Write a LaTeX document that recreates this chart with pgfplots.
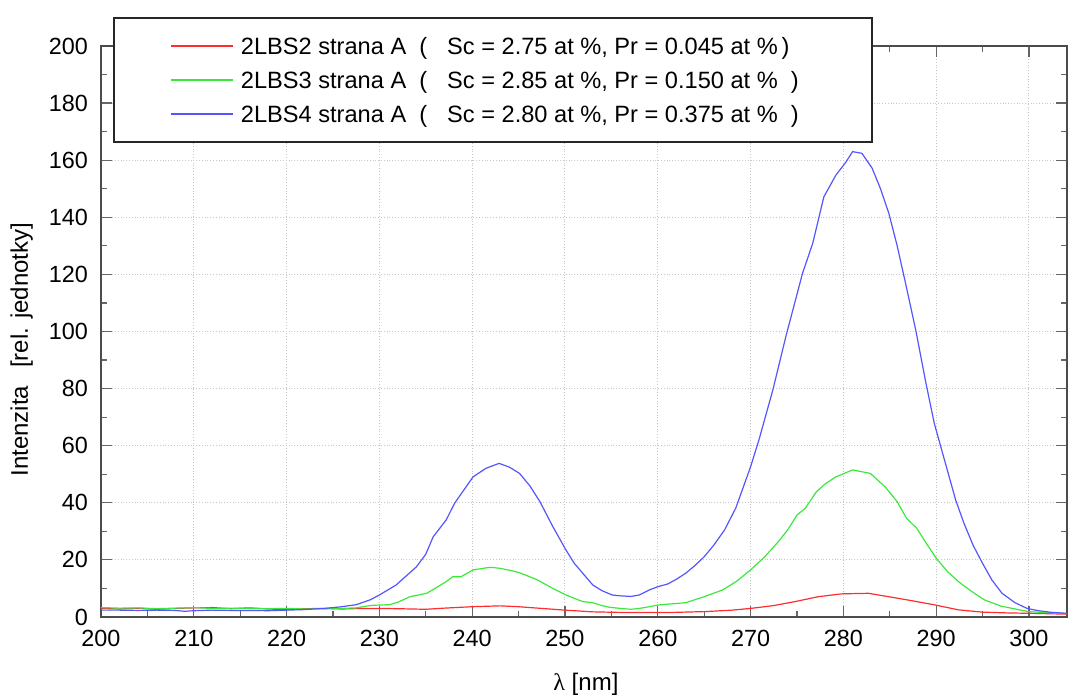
\documentclass[border=0pt]{standalone}
\usepackage{fontspec}
\setmainfont{Liberation Sans}
\newfontfamily\greekserif{Liberation Serif}
\usepackage{pgfplots}
\pgfplotsset{compat=1.18}
\definecolor{cred}{RGB}{255,45,45}
\definecolor{cgreen}{RGB}{60,232,60}
\definecolor{cblue}{RGB}{85,85,255}
\begin{document}
\begin{tikzpicture}
\begin{axis}[
  scale only axis, width=483pt, height=285.5pt,
  xmin=200, xmax=304.1, ymin=0, ymax=200,
  xtick={200,210,...,300}, ytick={0,20,...,200},
  minor x tick num=1, minor y tick num=1,
  tick align=inside,
  major tick length=5.5pt, minor tick length=3pt,
  tick style={color=black!60, line width=0.6pt},
  axis line style={color=black!70, line width=0.6pt},
  grid=major, major grid style={densely dotted, color=black!22, line width=0.5pt},
  /pgf/number format/assume math mode=true,
  tick label style={font=\fontsize{11.7}{14}\selectfont},
  xticklabel style={yshift=-3pt},
  yticklabel style={xshift=-3pt},
  xlabel={{\greekserif λ} [nm]},
  xlabel style={at={(axis description cs:0.502,-0.117)}, anchor=center, font=\fontsize{12}{14}\selectfont},
  ylabel={Intenzita\hspace{9pt}[rel. jednotky]},
  ylabel style={at={(axis description cs:-0.082,0.468)}, anchor=center, font=\fontsize{12}{14}\selectfont},
  legend cell align=left,
  legend image code/.code={\path[draw=none] (0pt,0pt) -- (63.5pt,0pt); \draw[#1, line width=0.6pt] (28.5pt,0pt) -- (59.5pt,0pt);},
  legend style={at={(axis description cs:0.0124,1.0508)}, anchor=north west,
    draw=black!85, line width=1pt, fill=white, inner xsep=0pt, inner ysep=5.5pt,
    row sep=0pt, nodes={inner sep=0pt, text height=12.6pt, text depth=4.4pt},
    font=\fontsize{11.8}{13}\selectfont},
]
\coordinate (sw) at (rel axis cs:0,0);
\coordinate (ne) at (rel axis cs:1,1);
\addplot[color=cred, line width=0.6pt] coordinates {
(200,3.0) (202,2.8) (204,3.1) (206,2.7) (208,3.0) (210,3.2) (212,3.3) (214,2.9) (216,3.2) (218,2.8)
(220,2.6) (222,2.9) (224,3.0) (226,2.8) (228,3.0) (230,3.0) (232,2.9) (235,2.7) (237,3.1) (240,3.6)
(243,3.9) (245,3.6) (247.5,3.0) (250,2.4) (253,1.8) (256,1.6) (259,1.6) (261.6,1.6) (265.2,1.9) (268,2.4)
(270,3.0) (272.5,4.0) (274.8,5.4) (277.3,7.1) (279.8,8.1) (282.7,8.3) (284.9,7.1) (287.4,5.7) (289.9,4.2)
(292.4,2.5) (295,1.7) (298,1.4) (300,1.3) (304.1,1.0)
};
\addlegendentry{\makebox[315.5pt][l]{2LBS2 strana A \ (\hspace{10pt}Sc = 2.75 at \%, Pr = 0.045 at \%\,)}}
\addplot[color=cgreen, line width=0.6pt] coordinates {
(200,3.3) (202,3.1) (204,3.2) (206,2.9) (208,3.1) (210,3.3) (212,3.0) (214,3.1) (216,3.0) (218,2.9)
(220,3.0) (222,2.8) (224,2.9) (226,3.0) (227.5,3.2) (229,4.0) (230,4.2) (231.1,4.3) (232,5.2) (233.3,7.1)
(235.1,8.3) (236,10) (237.2,12.4) (237.9,14.1) (238.8,14.1) (240.1,16.5) (241.9,17.4) (242.9,17.1) (244,16.4)
(245.1,15.5) (246.9,13.2) (248.7,10) (250.1,7.7) (251.9,5.4) (253,5.0) (254,4.0) (254.8,3.4) (256,3.0)
(257.1,2.7) (258,3.0) (259.1,3.6) (260,4.2) (263,5.0) (265,7.1) (267,9.5) (268.5,12.5) (270,16.5)
(271.5,21) (273,26.4) (274,30.5) (275,35.7) (275.9,38.1) (277.1,43.9) (278,46.5) (279.2,49.1) (281,51.5)
(282.9,50.3) (284.5,45.6) (285.8,40.4) (286.8,34.6) (287.9,31.1) (289,25.5) (290,20.6) (291.2,16)
(292.4,12.4) (293.8,9) (295.2,6.0) (297,3.8) (299.9,1.9) (302,1.5) (304.1,1.2)
};
\addlegendentry{\makebox[315.5pt][l]{2LBS3 strana A \ (\hspace{10pt}Sc = 2.85 at \%, Pr = 0.150 at \% \ )}}
\addplot[color=cblue, line width=0.6pt] coordinates {
(200,2.4) (202,2.4) (204,2.3) (206,2.4) (208,2.3) (209,2.0) (210,2.2) (212,2.4) (214,2.3) (216,2.3)
(218,2.2) (220,2.4) (222,2.6) (224,3.0) (225.7,3.5) (227.5,4.3) (229,6.0) (230,7.7) (231.8,11.2) (234,17.6)
(235,22) (235.8,28.1) (237.2,34) (238.1,39.8) (239,44) (240.1,49.1) (241.5,52.1) (242.9,53.8) (244,52.5)
(245.1,50.3) (246.2,46) (247.3,40.4) (248.7,31.6) (250.1,23.5) (251,18.8) (252,15) (253,11.2) (254,9.2)
(255.1,7.7) (256,7.4) (257.1,7.2) (258,7.7) (259.1,9.5) (260,10.6) (261.1,11.6) (262,13.2) (263,15.3)
(264,18) (265,21.1) (266,25) (267.2,30.5) (268.4,38.1) (270,52.6) (270.9,62) (272.4,79.5) (273.8,98.2)
(275.6,120.4) (276.7,130.9) (277.9,147.2) (279.2,154.8) (280.2,159) (281,163) (282,162.4) (283.1,157.2)
(284,150) (284.9,141.4) (285.8,130) (286.7,116.9) (287.8,100.5) (288.9,81.9) (289.8,67.8) (290.7,57.3)
(292.1,41) (293,32.8) (294,25) (295,18.8) (296,13) (297.1,8.3) (298.5,5) (299.8,3.0) (301,2.2) (302.5,1.6) (304.1,1.3)
};
\addlegendentry{\makebox[315.5pt][l]{2LBS4 strana A \ (\hspace{10pt}Sc = 2.80 at \%, Pr = 0.375 at \% \ )}}
\end{axis}
\pgfresetboundingbox
\path[use as bounding box] ([xshift=-50.5pt,yshift=-41.5pt]sw) rectangle ([xshift=0.5pt,yshift=23pt]ne);
\end{tikzpicture}
\end{document}
